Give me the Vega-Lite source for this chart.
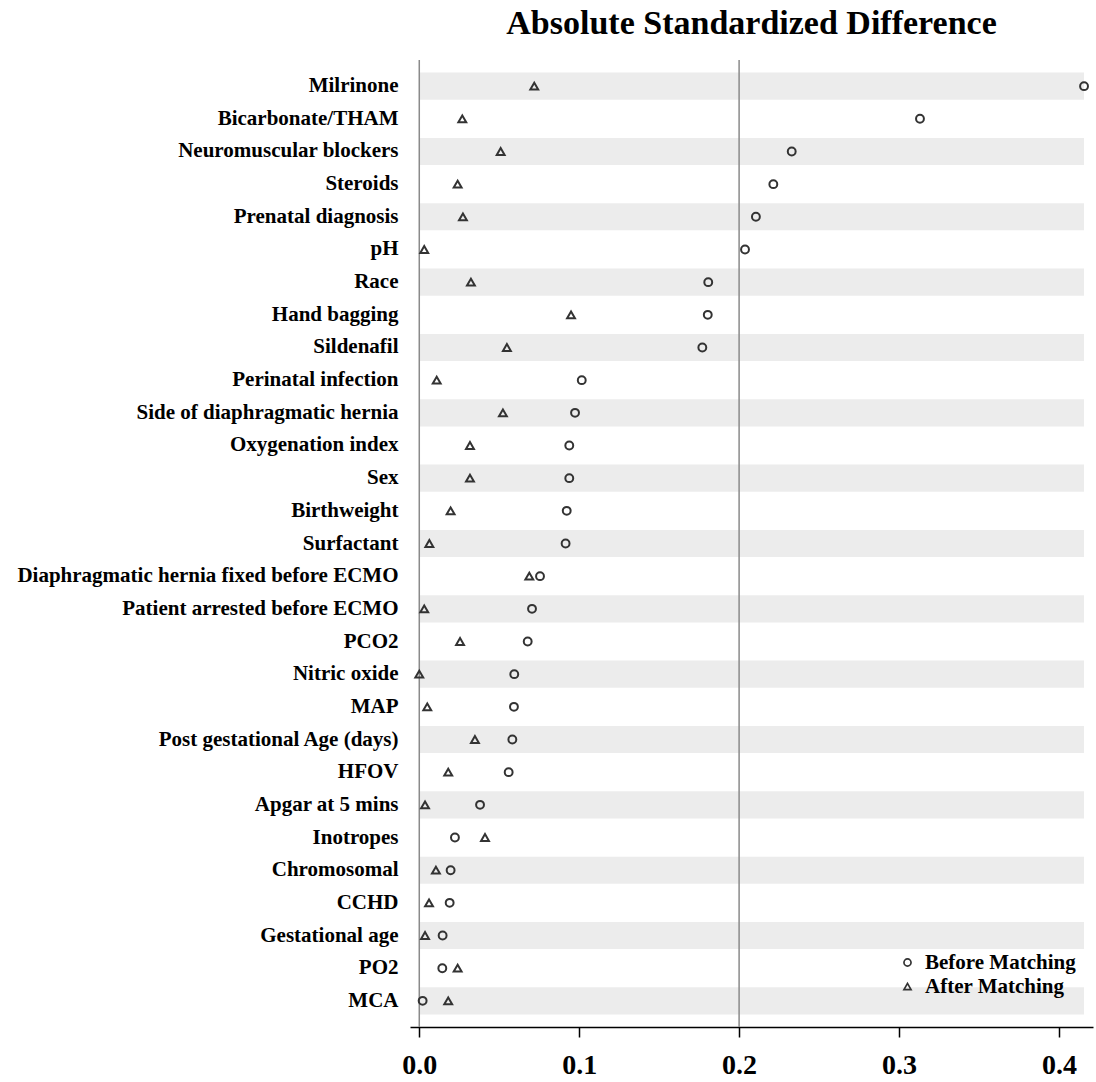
{
  "$schema": "https://vega.github.io/schema/vega-lite/v6.json",
  "autosize": "none",
  "width": 683,
  "height": 967,
  "padding": {"left": 410, "top": 60, "right": 3, "bottom": 55},
  "background": "white",
  "config": {
    "view": {"stroke": null},
    "font": "Liberation Serif"
  },
  "title": {
    "text": "Absolute Standardized Difference",
    "font": "Liberation Serif",
    "fontSize": 34,
    "fontWeight": "bold",
    "color": "black",
    "anchor": "middle",
    "offset": 18
  },
  "datasets": {
    "asd": [
      {"variable": "Milrinone", "before": 0.4157, "after": 0.0719},
      {"variable": "Bicarbonate/THAM", "before": 0.3131, "after": 0.0269},
      {"variable": "Neuromuscular blockers", "before": 0.2329, "after": 0.0509},
      {"variable": "Steroids", "before": 0.2214, "after": 0.024},
      {"variable": "Prenatal diagnosis", "before": 0.2105, "after": 0.0273},
      {"variable": "pH", "before": 0.2037, "after": 0.0031},
      {"variable": "Race", "before": 0.1807, "after": 0.0323},
      {"variable": "Hand bagging", "before": 0.1804, "after": 0.0949},
      {"variable": "Sildenafil", "before": 0.177, "after": 0.0548},
      {"variable": "Perinatal infection", "before": 0.1016, "after": 0.0109},
      {"variable": "Side of diaphragmatic hernia", "before": 0.0974, "after": 0.0523},
      {"variable": "Oxygenation index", "before": 0.0938, "after": 0.0317},
      {"variable": "Sex", "before": 0.0938, "after": 0.0317},
      {"variable": "Birthweight", "before": 0.0922, "after": 0.0196},
      {"variable": "Surfactant", "before": 0.0915, "after": 0.0063},
      {"variable": "Diaphragmatic hernia fixed before ECMO", "before": 0.0755, "after": 0.0688},
      {"variable": "Patient arrested before ECMO", "before": 0.0705, "after": 0.0031},
      {"variable": "PCO2", "before": 0.0678, "after": 0.0255},
      {"variable": "Nitric oxide", "before": 0.0594, "after": 0.0},
      {"variable": "MAP", "before": 0.0592, "after": 0.005},
      {"variable": "Post gestational Age (days)", "before": 0.0582, "after": 0.0348},
      {"variable": "HFOV", "before": 0.0559, "after": 0.0181},
      {"variable": "Apgar at 5 mins", "before": 0.038, "after": 0.0036},
      {"variable": "Inotropes", "before": 0.0223, "after": 0.0411},
      {"variable": "Chromosomal", "before": 0.0196, "after": 0.0104},
      {"variable": "CCHD", "before": 0.019, "after": 0.0061},
      {"variable": "Gestational age", "before": 0.0146, "after": 0.0036},
      {"variable": "PO2", "before": 0.0144, "after": 0.024},
      {"variable": "MCA", "before": 0.0021, "after": 0.0181}
    ],
    "refs": [{"ref": 0}, {"ref": 0.2}]
  },
  "layer": [
    {
      "data": {"name": "asd"},
      "transform": [
        {"window": [{"op": "row_number", "as": "rn"}]},
        {"joinaggregate": [{"op": "max", "field": "before", "as": "maxv"}]},
        {"filter": "datum.rn % 2 == 1"}
      ],
      "mark": {"type": "bar", "color": "#ececec"},
      "encoding": {
        "y": {
          "field": "variable",
          "type": "nominal",
          "sort": ["Milrinone", "Bicarbonate/THAM", "Neuromuscular blockers", "Steroids", "Prenatal diagnosis", "pH", "Race", "Hand bagging", "Sildenafil", "Perinatal infection", "Side of diaphragmatic hernia", "Oxygenation index", "Sex", "Birthweight", "Surfactant", "Diaphragmatic hernia fixed before ECMO", "Patient arrested before ECMO", "PCO2", "Nitric oxide", "MAP", "Post gestational Age (days)", "HFOV", "Apgar at 5 mins", "Inotropes", "Chromosomal", "CCHD", "Gestational age", "PO2", "MCA"],
          "scale": {"paddingInner": 0.17, "paddingOuter": 0.385}
        },
        "x": {"field": "maxv", "type": "quantitative"}
      }
    },
    {
      "data": {"name": "refs"},
      "mark": {"type": "rule", "color": "#8a8a8a", "strokeWidth": 1.5},
      "encoding": {
        "x": {"field": "ref", "type": "quantitative"}
      }
    },
    {
      "data": {"name": "asd"},
      "transform": [
        {"fold": ["before", "after"], "as": ["matching", "value"]}
      ],
      "mark": {"type": "point", "filled": false, "stroke": "#333333", "strokeWidth": 2, "size": 62, "opacity": 1},
      "encoding": {
        "y": {
          "field": "variable",
          "type": "nominal",
          "sort": ["Milrinone", "Bicarbonate/THAM", "Neuromuscular blockers", "Steroids", "Prenatal diagnosis", "pH", "Race", "Hand bagging", "Sildenafil", "Perinatal infection", "Side of diaphragmatic hernia", "Oxygenation index", "Sex", "Birthweight", "Surfactant", "Diaphragmatic hernia fixed before ECMO", "Patient arrested before ECMO", "PCO2", "Nitric oxide", "MAP", "Post gestational Age (days)", "HFOV", "Apgar at 5 mins", "Inotropes", "Chromosomal", "CCHD", "Gestational age", "PO2", "MCA"],
          "scale": {"paddingInner": 0.17, "paddingOuter": 0.385},
          "axis": {
            "title": null,
            "domain": false,
            "ticks": false,
            "tickSize": 0,
            "labelPadding": 12,
            "labelFont": "Liberation Serif",
            "labelFontSize": 21,
            "labelFontWeight": "bold",
            "labelColor": "black",
            "labelLimit": 500
          }
        },
        "x": {
          "field": "value",
          "type": "quantitative",
          "scale": {"domain": [-0.0058, 0.4213], "nice": false, "zero": false},
          "axis": {
            "title": null,
            "values": [0, 0.1, 0.2, 0.3, 0.4],
            "format": ".1f",
            "grid": false,
            "domainColor": "black",
            "domainWidth": 1.5,
            "tickColor": "black",
            "tickWidth": 1.5,
            "tickSize": 10,
            "labelPadding": 14,
            "labelFont": "Liberation Serif",
            "labelFontSize": 28,
            "labelFontWeight": "bold",
            "labelColor": "black"
          }
        },
        "shape": {
          "field": "matching",
          "type": "nominal",
          "scale": {"domain": ["before", "after"], "range": ["circle", "triangle-up"]},
          "legend": {
            "title": null,
            "orient": "none",
            "legendX": 487,
            "legendY": 892,
            "labelExpr": "datum.value == 'before' ? 'Before Matching' : 'After Matching'",
            "labelFont": "Liberation Serif",
            "labelFontSize": 21,
            "labelFontWeight": "bold",
            "labelColor": "black",
            "symbolStrokeColor": "#333333",
            "symbolFillColor": "transparent",
            "symbolStrokeWidth": 1.7,
            "symbolSize": 50,
            "rowPadding": 2,
            "labelOffset": 7
          }
        }
      }
    }
  ]
}
